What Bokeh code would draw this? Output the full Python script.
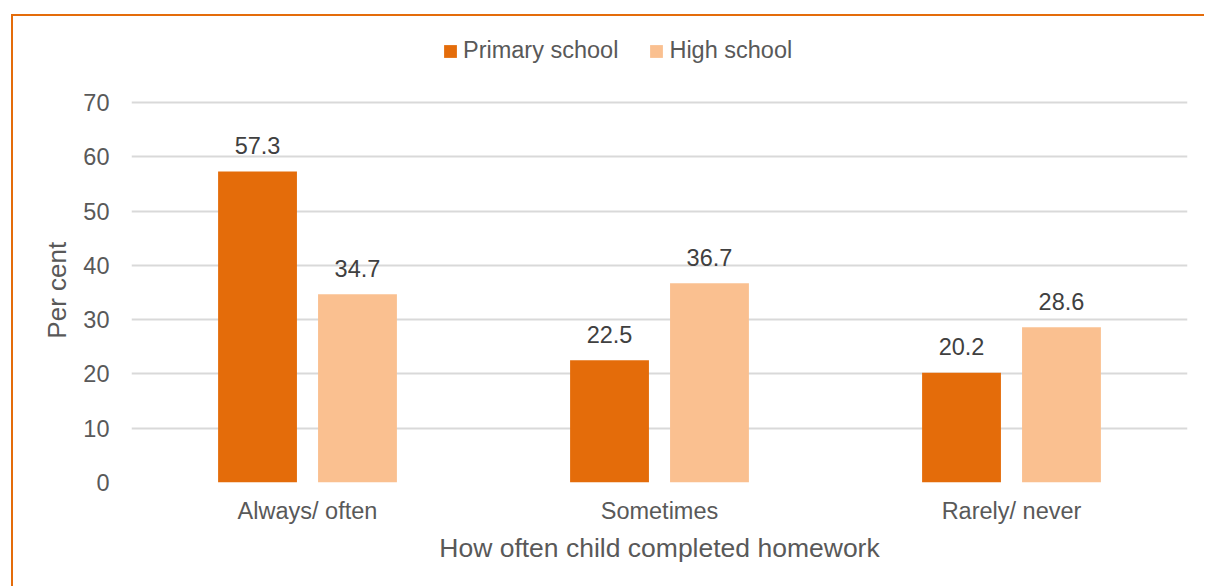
from bokeh.plotting import figure
from bokeh.models import ColumnDataSource, FactorRange, Legend, LegendItem, Range1d
from bokeh.transform import dodge
from bokeh.embed import file_html
from bokeh.resources import INLINE
from bokeh.core.properties import value

categories = ["Always/ often", "Sometimes", "Rarely/ never"]
primary_school = [57.3, 22.5, 20.2]
high_school = [34.7, 36.7, 28.6]
y_ticks = [0, 10, 20, 30, 40, 50, 60, 70]
y_title = "Per cent"
x_title = "How often child completed homework"

FONT = "Liberation Sans"
GRAY = "#595959"
DARK = "#E46C0A"
LIGHT = "#FAC090"

src = ColumnDataSource(dict(
    cat=categories,
    primary=primary_school,
    high=high_school,
    plab=["%.1f" % v for v in primary_school],
    hlab=["%.1f" % v for v in high_school],
))

# frame: x 131..1187, y 18..482 ; the 70 gridline sits at y=102
PX_PER_UNIT = 380 / 70.0
Y_TOP = 70 + (102 - 18) / PX_PER_UNIT

p = figure(
    width=1193, height=572,
    x_range=FactorRange(factors=categories, range_padding=0),
    y_range=Range1d(0, Y_TOP),
    output_backend="svg", toolbar_location=None,
    min_border_left=118, min_border_right=19,
    min_border_top=2, min_border_bottom=106,
    margin=(14, 0, 0, 11),
    styles={"border-left": "2px solid #E46C0A", "border-top": "2px solid #E46C0A"},
)
p.outline_line_color = None
p.background_fill_color = "white"
p.border_fill_color = "white"

# grid
p.xgrid.grid_line_color = None
p.ygrid.grid_line_color = "#D9D9D9"
p.ygrid.grid_line_width = 2

OFF = 0.142
W = 0.224
r1 = p.vbar(x=dodge("cat", -OFF, range=p.x_range), top="primary", width=W,
            source=src, fill_color=DARK, line_color=None)
r2 = p.vbar(x=dodge("cat", OFF, range=p.x_range), top="high", width=W,
            source=src, fill_color=LIGHT, line_color=None)

for col, lab, off in (("primary", "plab", -OFF), ("high", "hlab", OFF)):
    p.text(x=dodge("cat", off, range=p.x_range), y=col, text=lab, source=src,
           text_font=value(FONT), text_font_size="23.5px", text_color="#404040",
           text_align="center", text_baseline="alphabetic", y_offset=-26)

# axes
p.yaxis.ticker = y_ticks
p.yaxis.axis_line_color = None
p.yaxis.major_tick_line_color = None
p.yaxis.minor_tick_line_color = None
p.yaxis.major_tick_out = 0
p.yaxis.major_label_standoff = 22
p.yaxis.major_label_text_font = FONT
p.yaxis.major_label_text_font_size = "23.5px"
p.yaxis.major_label_text_color = GRAY
# trailing no-break spaces shift the centred title down to the middle of the 0-70 band
p.yaxis.axis_label = y_title + "\u00a0" * 11
p.yaxis.axis_label_text_font = FONT
p.yaxis.axis_label_text_font_size = "26px"
p.yaxis.axis_label_text_font_style = "normal"
p.yaxis.axis_label_text_color = GRAY
p.yaxis.axis_label_standoff = 8

p.xaxis.axis_line_color = None
p.xaxis.major_tick_line_color = None
p.xaxis.minor_tick_line_color = None
p.xaxis.major_tick_out = 0
p.xaxis.major_label_standoff = 15
p.xaxis.major_label_text_font = FONT
p.xaxis.major_label_text_font_size = "23.5px"
p.xaxis.major_label_text_color = GRAY
p.xaxis.axis_label = x_title
p.xaxis.axis_label_text_font = FONT
p.xaxis.axis_label_text_font_size = "26.5px"
p.xaxis.axis_label_text_font_style = "normal"
p.xaxis.axis_label_text_color = GRAY
p.xaxis.axis_label_standoff = 6

legend = Legend(
    items=[LegendItem(label="Primary school", renderers=[r1]),
           LegendItem(label="High school", renderers=[r2])],
    orientation="horizontal", location=(311, 418),
    glyph_width=16, glyph_height=16, label_standoff=5, spacing=30,
    label_text_font=FONT, label_text_font_size="23.5px", label_text_color=GRAY,
    border_line_color=None, background_fill_alpha=0,
    padding=0, margin=0,
)
p.add_layout(legend, "center")

open("out.html", "w").write(file_html(p, INLINE))
